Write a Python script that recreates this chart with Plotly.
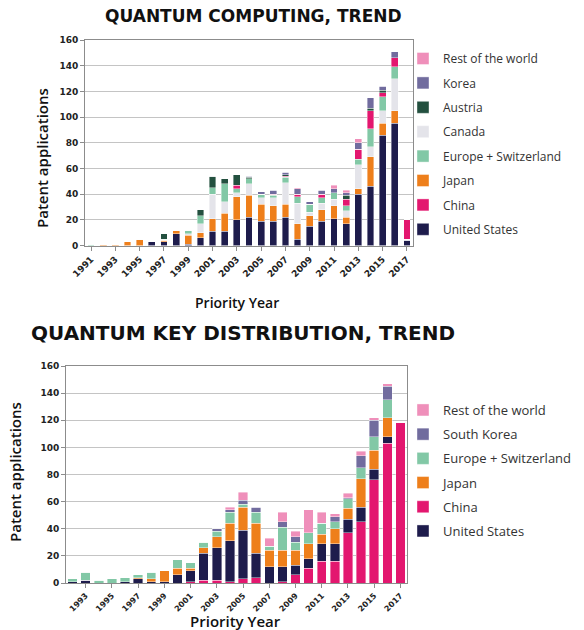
import plotly.graph_objects as go

# ---------------- Quantum computing (top) ----------------
qc_years = list(range(1991, 2018))
qc_us      = [0, 0, 0, 0, 0, 3, 3, 9, 1, 6, 11, 11, 20, 22, 19, 19, 22, 5, 15, 19, 21, 17, 40, 46, 86, 95, 4]
qc_japan   = [0, 0.5, 0.5, 3, 5, 0, 1, 3, 7, 4, 10, 14, 18, 17, 13, 12, 10, 12, 8, 9, 10, 5, 4, 23, 9, 10, 0]
qc_canada  = [0, 0, 0, 0, 0, 0, 0, 0, 1, 7, 19, 9, 3, 9, 5, 6, 17, 16, 3, 5, 5, 5, 19, 8, 10, 25, 1]
qc_europe  = [1, 0, 0, 0, 0, 0, 1, 0, 3, 6, 5, 14, 3, 4, 3, 2, 4, 5, 6, 4, 5, 4, 4, 14, 11, 9, 0]
qc_china   = [0, 0, 0, 0, 0, 0, 0, 0, 0, 0, 0, 0, 3, 0, 0, 1, 1, 2, 0, 3, 0, 5, 8, 14, 3, 7, 15]
qc_austria = [0, 0, 0, 0, 0, 0, 4, 0, 0, 5, 9, 4, 8, 1, 0, 0, 1, 0, 0, 0, 0, 3, 0, 2, 2, 0, 0]
qc_korea   = [0, 0, 0, 0, 0, 0, 0, 0, 0, 0, 0, 0, 0, 1, 2, 3, 2, 4, 2, 3, 3, 2, 5, 8, 3, 5, 0]
qc_row     = [0, 0, 0, 0, 0, 0, 0, 0, 0, 0, 0, 0, 0, 0, 0, 0, 0, 1, 0, 0, 3, 2, 3, 0, 0, 0, 0]

# ---------------- Quantum key distribution (bottom) ----------------
qkd_years = list(range(1992, 2018))
qkd_china  = [0, 0, 0, 0, 0, 0, 0, 0, 0, 1, 2, 2, 1, 3, 4, 0, 1, 6, 11, 16, 16, 37, 45, 76, 103, 118]
qkd_us     = [1, 2, 0, 0, 1, 3, 1, 1, 6, 8, 20, 24, 30, 36, 18, 12, 11, 7, 7, 13, 13, 10, 11, 8, 5, 0]
qkd_japan  = [0, 0, 0, 0, 0, 1, 2, 8, 5, 2, 4, 8, 13, 17, 22, 12, 12, 11, 11, 7, 11, 8, 21, 14, 14, 0]
qkd_europe = [2, 6, 2, 3, 3, 2, 5, 0, 6, 4, 4, 4, 8, 2, 8, 3, 17, 6, 8, 8, 5, 7, 8, 10, 13, 0]
qkd_korea  = [0, 0, 0, 0, 0, 0, 0, 0, 0, 0, 0, 2, 2, 3, 4, 0, 4, 4, 0, 0, 4, 1, 9, 12, 10, 0]
qkd_row    = [0, 0, 0, 0, 0, 0, 0, 0, 0, 0, 0, 0, 2, 6, 0, 6, 7, 4, 17, 8, 2, 3, 3, 2, 2, 0]

C_US = "#1e1c4c"
C_CN = "#e3176f"
C_JP = "#ee7f1b"
C_EU = "#82c8a6"
C_CA = "#e4e4ea"
C_AT = "#23503f"
C_KR = "#716c9e"
C_ROW = "#ef8fba"

W, H = 584, 630
def px(x): return x / W
def py(y): return 1 - y / H

fig = go.Figure()

top_series = [
    ("United States", qc_us, C_US, 8),
    ("Japan", qc_japan, C_JP, 6),
    ("Canada", qc_canada, C_CA, 4),
    ("Europe + Switzerland", qc_europe, C_EU, 5),
    ("China", qc_china, C_CN, 7),
    ("Austria", qc_austria, C_AT, 3),
    ("Korea", qc_korea, C_KR, 2),
    ("Rest of the world", qc_row, C_ROW, 1),
]
for name, vals, col, rank in top_series:
    fig.add_trace(go.Bar(
        x=qc_years, y=vals, name=name, width=0.56,
        marker=dict(color=col, line=dict(color="white", width=0.4)),
        xaxis="x", yaxis="y", legend="legend", legendrank=rank, legendgroup="t" + name,
        hoverinfo="x+y+name"))

bot_series = [
    ("China", qkd_china, C_CN, 5),
    ("United States", qkd_us, C_US, 6),
    ("Japan", qkd_japan, C_JP, 4),
    ("Europe + Switzerland", qkd_europe, C_EU, 3),
    ("South Korea", qkd_korea, C_KR, 2),
    ("Rest of the world", qkd_row, C_ROW, 1),
]
for name, vals, col, rank in bot_series:
    fig.add_trace(go.Bar(
        x=qkd_years, y=vals, name=name, width=0.72,
        marker=dict(color=col, line=dict(color="white", width=0.4)),
        xaxis="x2", yaxis="y2", legend="legend2", legendrank=rank, legendgroup="b" + name,
        hoverinfo="x+y+name"))

tickfont = dict(family="DejaVu Sans", size=9, color="#222222", weight="bold")
tickfont_small = dict(family="DejaVu Sans", size=8, color="#222222", weight="bold")
axis_common = dict(showline=True, linecolor="#8c8c8c", linewidth=1, mirror=True, automargin=False,
                   ticks="outside", ticklen=4, tickcolor="#8c8c8c")

fig.update_layout(
    width=W, height=H, margin=dict(l=0, r=0, t=0, b=0, autoexpand=False),
    paper_bgcolor="white", plot_bgcolor="white",
    barmode="stack",
    showlegend=True,
    xaxis=dict(domain=[px(85), px(413)], range=[1990.5, 2017.5], anchor="y",
               tickvals=list(range(1991, 2018, 2)), ticktext=[str(v) for v in range(1991, 2018, 2)],
               tickangle=-45, showgrid=False, tickfont=tickfont, **axis_common),
    yaxis=dict(domain=[py(245.5), py(40)], range=[0, 160], dtick=20, anchor="x",
               showgrid=True, gridcolor="#c4c4c4", gridwidth=1, zeroline=False, tickfont=tickfont, **axis_common),
    xaxis2=dict(domain=[px(66), px(407)], range=[1991.5, 2017.5], anchor="y2",
                tickvals=list(range(1993, 2018, 2)), ticktext=[str(v) for v in range(1993, 2018, 2)],
                tickangle=-45, showgrid=False, tickfont=tickfont_small, **axis_common),
    yaxis2=dict(domain=[py(583), py(366)], range=[0, 160], dtick=20, anchor="x2",
                showgrid=True, gridcolor="#c4c4c4", gridwidth=1, zeroline=False, tickfont=tickfont, **axis_common),
    legend=dict(x=px(403), y=py(44), xanchor="left", yanchor="top", traceorder="grouped",
                font=dict(family="Open Sans", size=12, color="#333333"),
                tracegroupgap=5.4, itemwidth=30, bgcolor="rgba(0,0,0,0)"),
    legend2=dict(x=px(403), y=py(395), xanchor="left", yanchor="top", traceorder="grouped",
                 font=dict(family="Open Sans", size=13, color="#333333"),
                 tracegroupgap=4.3, itemwidth=30, bgcolor="rgba(0,0,0,0)"),
)

ann = [
    dict(text="QUANTUM COMPUTING, TREND", x=px(253), y=py(16), font=dict(family="DejaVu Sans", size=17, color="#111111", weight="bold")),
    dict(text="QUANTUM KEY DISTRIBUTION, TREND", x=px(243), y=py(333), font=dict(family="DejaVu Sans", size=20, color="#111111", weight="bold")),
    dict(text="Patent applications", x=px(42), y=py(158), textangle=-90, font=dict(family="Open Sans", size=15, color="#111111", weight=600)),
    dict(text="Patent applications", x=px(15), y=py(472), textangle=-90, font=dict(family="Open Sans", size=15, color="#111111", weight=600)),
    dict(text="Priority Year", x=px(237), y=py(302), font=dict(family="Open Sans", size=14, color="#111111", weight=600)),
    dict(text="Priority Year", x=px(235), y=py(621), font=dict(family="Open Sans", size=15, color="#111111", weight=600)),
]
for a in ann:
    fig.add_annotation(xref="paper", yref="paper", showarrow=False, xanchor="center", yanchor="middle", **a)

fig.write_html("out.html", config={"displayModeBar": False},
               post_script="document.body.style.margin='0';document.body.style.overflow='hidden';")
